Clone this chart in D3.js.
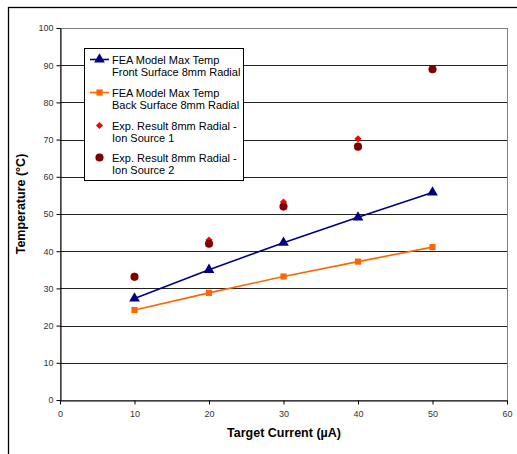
<!DOCTYPE html>
<html><head><meta charset="utf-8">
<script src="https://cdn.jsdelivr.net/npm/d3@7"></script>
<style>body{margin:0;background:#fff;overflow:hidden}svg{display:block}</style>
</head><body>
<svg id="c" width="517" height="454"></svg>
<script>
const currents = [10, 20, 30, 40, 50];
const frontFEA = [27.3, 35.0, 42.3, 49.1, 55.8];
const backFEA = [24.2, 28.8, 33.2, 37.2, 41.1];
const expSource1 = [33.3, 43.0, 53.2, 70.2, 89.0];
const expSource2 = [33.1, 42.0, 52.0, 68.1, 88.9];
const xTicks = [0, 10, 20, 30, 40, 50, 60];
const yTicks = [0, 10, 20, 30, 40, 50, 60, 70, 80, 90, 100];
const legendLabels = [
  ["FEA Model Max Temp", "Front Surface 8mm Radial"],
  ["FEA Model Max Temp", "Back Surface 8mm Radial"],
  ["Exp. Result 8mm Radial -", "Ion Source 1"],
  ["Exp. Result 8mm Radial -", "Ion Source 2"]
];

const svg = d3.select("#c");
const font = "'Liberation Sans', Arial, sans-serif";
const L = 60, R = 507, T = 28, B = 400;
const x = d3.scaleLinear().domain([0, 60]).range([L, R]);
const y = d3.scaleLinear().domain([0, 100]).range([B, T]);

// outer frame
svg.append("rect").attr("x", 8.5).attr("y", 7.5).attr("width", 600).attr("height", 600)
  .attr("fill", "none").attr("stroke", "#000").attr("stroke-width", 1.3);

// plot border
svg.append("rect").attr("x", L + 0.5).attr("y", T + 0.5).attr("width", R - L).attr("height", B - T)
  .attr("fill", "none").attr("stroke", "#808080");

// gridlines
svg.append("g").selectAll("line").data(yTicks.filter(d => d > 0 && d < 100)).join("line")
  .attr("x1", L).attr("x2", R)
  .attr("y1", d => Math.round(y(d)) + 0.5).attr("y2", d => Math.round(y(d)) + 0.5)
  .attr("stroke", "#222").attr("stroke-width", 1);

// axes
const yAxis = svg.append("g").attr("transform", `translate(${L + 0.5},0)`)
  .call(d3.axisLeft(y).tickValues(yTicks).tickSize(4).tickSizeOuter(0).tickPadding(3));
const xAxis = svg.append("g").attr("transform", `translate(0,${B + 0.5})`)
  .call(d3.axisBottom(x).tickValues(xTicks).tickSize(4).tickSizeOuter(0).tickPadding(6));
[yAxis, xAxis].forEach(a => {
  a.select(".domain").attr("stroke", "#000");
  a.selectAll(".tick line").attr("stroke", "#000");
  a.selectAll("text").attr("font-family", font).attr("font-size", 9).attr("fill", "#333");
});

// axis titles
svg.append("text").attr("x", 284).attr("y", 437).attr("text-anchor", "middle")
  .attr("font-family", font).attr("font-size", 12.5).attr("font-weight", "bold").text("Target Current (µA)");
svg.append("text").attr("transform", "translate(24.5,204) rotate(-90)").attr("text-anchor", "middle")
  .attr("font-family", font).attr("font-size", 12.5).attr("font-weight", "bold").text("Temperature (°C)");

const line = d3.line().x(d => x(d[0])).y(d => y(d[1]));
const pairs = arr => currents.map((c, i) => [c, arr[i]]);

const series = [
  { data: frontFEA, color: "#000080", line: true, sym: d3.symbolTriangle, size: 50, rot: 0 },
  { data: backFEA, color: "#FF6600", line: true, sym: d3.symbolSquare, size: 38, rot: 0 },
  { data: expSource1, color: "#FF0000", line: false, sym: d3.symbolSquare, size: 26, rot: 45 },
  { data: expSource2, color: "#800000", line: false, sym: d3.symbolCircle, size: 52, rot: 0 }
];

series.forEach(s => {
  if (s.line) {
    svg.append("path").datum(pairs(s.data)).attr("d", line)
      .attr("fill", "none").attr("stroke", s.color).attr("stroke-width", 1.6);
  }
  svg.append("g").selectAll("path").data(pairs(s.data)).join("path")
    .attr("transform", d => `translate(${x(d[0])},${y(d[1])}) rotate(${s.rot})`)
    .attr("d", d3.symbol().type(s.sym).size(s.size)).attr("fill", s.color);
});

// legend
const lg = svg.append("g");
lg.append("rect").attr("x", 84.5).attr("y", 48.5).attr("width", 159).attr("height", 132)
  .attr("fill", "#fff").attr("stroke", "#000");
const rowY = [59.5, 92.5, 125.5, 157.5];
series.forEach((s, i) => {
  const cy = rowY[i];
  if (s.line) {
    lg.append("line").attr("x1", 90).attr("x2", 109).attr("y1", cy).attr("y2", cy)
      .attr("stroke", s.color).attr("stroke-width", 1.6);
  }
  lg.append("path").attr("transform", `translate(99.5,${cy}) rotate(${s.rot})`)
    .attr("d", d3.symbol().type(s.sym).size(s.size)).attr("fill", s.color);
  legendLabels[i].forEach((t, j) => {
    lg.append("text").attr("x", 112).attr("y", cy + 4 + j * 12.5)
      .attr("font-family", font).attr("font-size", 11).attr("fill", "#000").text(t);
  });
});
</script>
</body></html>
